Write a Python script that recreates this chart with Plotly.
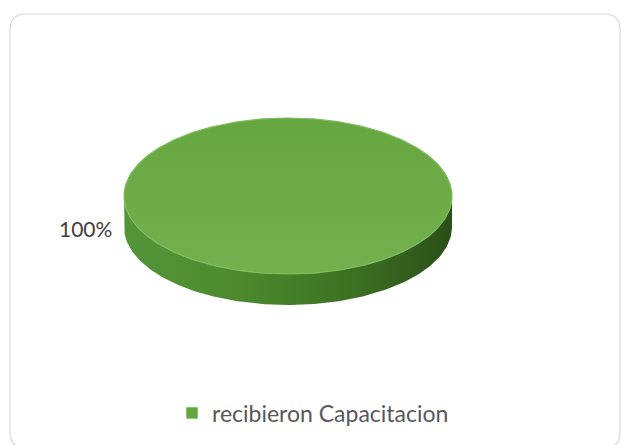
import numpy as np
import plotly.graph_objects as go

# Data
labels = ["recibieron Capacitacion"]
values = [100]
slice_colors = ["#6cab46"]

W, H = 622, 445
total = float(sum(values))
fractions = [v / total for v in values]

# 3D pie geometry (pixel space: x right, y down)
cx, cy = 288, 196
rx, ry = 164, 78
depth = 31

fig = go.Figure()

start = -np.pi / 2
for lab, frac, col in zip(labels, fractions, slice_colors):
    sweep = 2 * np.pi * frac
    t = np.linspace(start, start + sweep, 361)

    # side wall: only the front half (angles between 0 and pi) is visible
    lo, hi = max(start, 0.0), min(start + sweep, np.pi)
    if frac >= 1.0:
        lo, hi = 0.0, np.pi
    if hi > lo:
        ts = np.linspace(lo, hi, 181)
        xs_top = cx + rx * np.cos(ts)
        ys_top = cy + ry * np.sin(ts)
        xs = np.concatenate([xs_top, xs_top[::-1]])
        ys = np.concatenate([ys_top, ys_top[::-1] + depth])
        fig.add_trace(go.Scatter(
            x=xs, y=ys, mode="lines", fill="toself",
            line=dict(width=0, color="#3f7524"),
            fillgradient=dict(type="horizontal",
                              colorscale=[[0, "#56943a"], [0.35, "#4c8a2d"],
                                          [0.7, "#3c7022"], [1, "#2a4f18"]]),
            showlegend=False, hoverinfo="skip"))

    # top face
    if frac >= 1.0:
        xt = cx + rx * np.cos(t)
        yt = cy + ry * np.sin(t)
    else:
        xt = np.concatenate([[cx], cx + rx * np.cos(t), [cx]])
        yt = np.concatenate([[cy], cy + ry * np.sin(t), [cy]])
    fig.add_trace(go.Scatter(
        x=xt, y=yt, mode="lines", fill="toself",
        line=dict(width=1.2, color="#80bc5e"),
        fillgradient=dict(type="vertical",
                          colorscale=[[0, "#74b14e"], [1, "#66a641"]]),
        showlegend=False, hoverinfo="skip"))

    # percentage label on the left of the pie
    fig.add_annotation(
        x=cx - rx - 10, y=cy + depth / 2 + 17, xref="x", yref="y",
        text=f"{frac * 100:.0f}%", showarrow=False, xanchor="right",
        yanchor="middle", font=dict(family="Lato", size=21, color="#404040"))

    # legend entry
    fig.add_trace(go.Scatter(
        x=[None], y=[None], mode="markers", name=lab,
        marker=dict(symbol="square", size=11, color="#66a641",
                    line=dict(width=1, color="#8cc46a")),
        showlegend=True))
    start += sweep

# rounded chart border
x0, y0, x1, y1, r = 10, 14, 620, 448, 16
border = (f"M {x0 + r},{y0} L {x1 - r},{y0} Q {x1},{y0} {x1},{y0 + r} "
          f"L {x1},{y1 - r} Q {x1},{y1} {x1 - r},{y1} "
          f"L {x0 + r},{y1} Q {x0},{y1} {x0},{y1 - r} "
          f"L {x0},{y0 + r} Q {x0},{y0} {x0 + r},{y0} Z")
fig.add_shape(type="path", path=border, xref="x", yref="y",
              line=dict(color="#d9d9d9", width=1.2), layer="below")

fig.update_layout(
    width=W, height=H,
    margin=dict(l=0, r=0, t=0, b=0),
    paper_bgcolor="white", plot_bgcolor="white",
    xaxis=dict(range=[0, W], visible=False, fixedrange=True),
    yaxis=dict(range=[H, 0], visible=False, fixedrange=True),
    showlegend=True,
    legend=dict(orientation="h", x=172 / W, xanchor="left",
                y=1 - 413 / H, yanchor="middle",
                font=dict(family="Lato", size=23, color="#595959"),
                bgcolor="rgba(0,0,0,0)"),
)

fig.write_html("out.html")
